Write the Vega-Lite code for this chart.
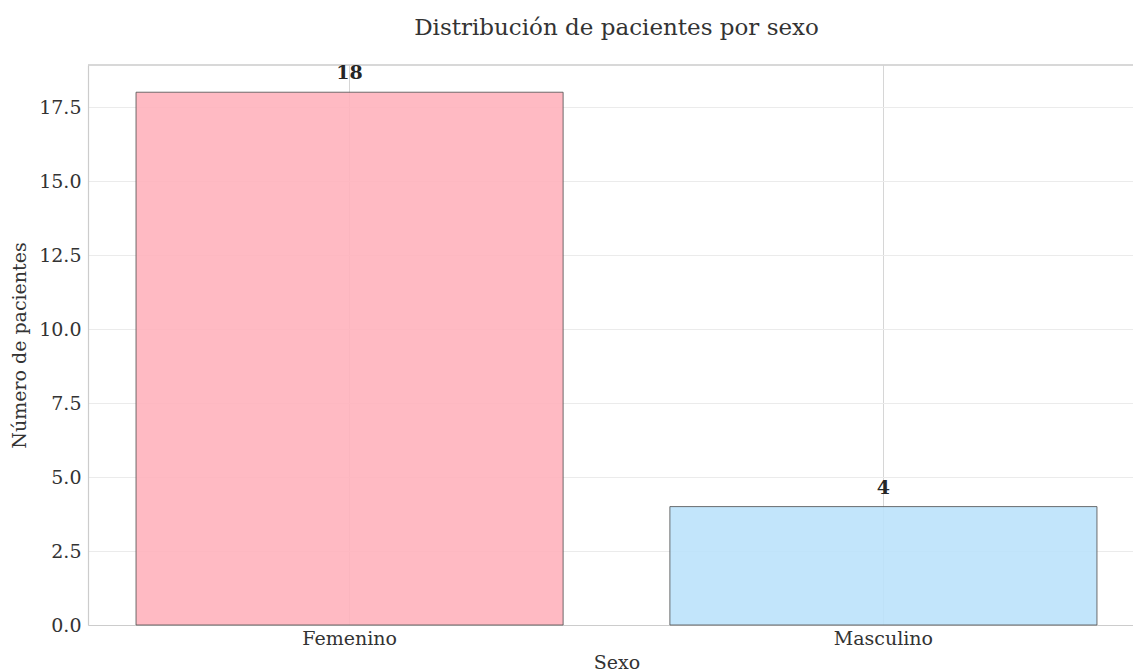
{
  "$schema": "https://vega.github.io/schema/vega-lite/v6.json",
  "autosize": "none",
  "width": 1045,
  "height": 560,
  "padding": {"left": 88, "top": 65, "right": 0, "bottom": 47},
  "background": "white",
  "title": {
    "text": "Distribución de pacientes por sexo",
    "font": "DejaVu Serif",
    "fontSize": 23,
    "fontWeight": "normal",
    "color": "#333333",
    "anchor": "middle",
    "dx": 6,
    "offset": 24
  },
  "config": {
    "view": {"stroke": null},
    "font": "DejaVu Serif"
  },
  "data": {
    "values": [
      {"sexo": "Femenino", "pacientes": 18},
      {"sexo": "Masculino", "pacientes": 4}
    ]
  },
  "encoding": {
    "x": {
      "field": "sexo",
      "type": "nominal",
      "sort": ["Femenino", "Masculino"],
      "scale": {"range": [0, 1057], "paddingInner": 0.2, "paddingOuter": 0.09},
      "axis": {
        "title": "Sexo",
        "titleFont": "DejaVu Serif",
        "titleFontSize": 19,
        "titleFontWeight": "normal",
        "titleColor": "#333333",
        "titlePadding": 5,
        "labelFont": "DejaVu Serif",
        "labelFontSize": 19,
        "labelColor": "#333333",
        "labelAngle": 0,
        "labelPadding": 4,
        "ticks": false,
        "domainColor": "#cccccc",
        "domainWidth": 1.2,
        "grid": true,
        "gridColor": "#d6d6d6",
        "bandPosition": 0.5
      }
    },
    "y": {
      "field": "pacientes",
      "type": "quantitative",
      "scale": {"domain": [0, 18.92], "nice": false, "zero": true},
      "axis": {
        "title": "Número de pacientes",
        "titleFont": "DejaVu Serif",
        "titleFontSize": 19,
        "titleFontWeight": "normal",
        "titleColor": "#333333",
        "titlePadding": 9,
        "labelFont": "DejaVu Serif",
        "labelFontSize": 19,
        "labelColor": "#333333",
        "labelPadding": 7,
        "values": [0, 2.5, 5, 7.5, 10, 12.5, 15, 17.5],
        "format": ".1f",
        "ticks": false,
        "domainColor": "#cccccc",
        "domainWidth": 1.2,
        "grid": true,
        "gridColor": "#ebebeb"
      }
    }
  },
  "layer": [
    {
      "mark": {"type": "rule", "color": "#cccccc", "strokeWidth": 1.2},
      "encoding": {"y": {"datum": 18.92}, "x": null}
    },
    {
      "mark": {"type": "bar", "stroke": "#555555", "strokeWidth": 1, "strokeOpacity": 0.85, "fillOpacity": 0.9},
      "encoding": {
        "color": {
          "field": "sexo",
          "type": "nominal",
          "scale": {"domain": ["Femenino", "Masculino"], "range": ["#FFB3BC", "#BBE2FB"]},
          "legend": null
        }
      }
    },
    {
      "mark": {"type": "text", "baseline": "bottom", "dy": -9, "font": "DejaVu Serif", "fontSize": 19, "fontWeight": "bold", "color": "#262626"},
      "encoding": {"text": {"field": "pacientes", "type": "quantitative"}}
    }
  ]
}
